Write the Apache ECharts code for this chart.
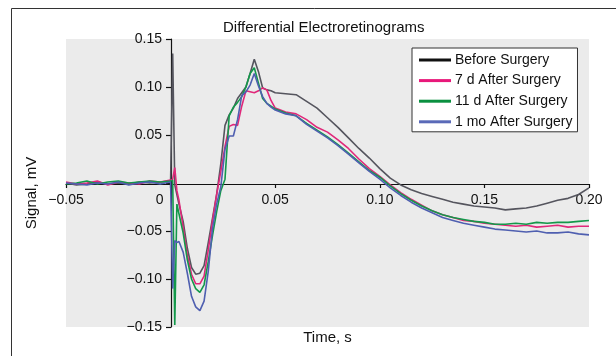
<!DOCTYPE html>
<html>
<head>
<meta charset="utf-8">
<script src="https://cdn.jsdelivr.net/npm/echarts@6/dist/echarts.min.js"></script>
<style>
  html, body { margin: 0; padding: 0; background: #fff; }
  #main { width: 616px; height: 356px; }
</style>
</head>
<body>
<div id="main"></div>
<script>
// time points (s)
var times = [
  -0.05, -0.045, -0.04, -0.035, -0.03, -0.025, -0.02, -0.015, -0.01, -0.005, 0,
  0.001, 0.002, 0.003, 0.004, 0.006, 0.008,
  0.010, 0.012, 0.014, 0.016, 0.018, 0.020, 0.022, 0.024, 0.026, 0.028, 0.030,
  0.032, 0.034, 0.036, 0.038, 0.040, 0.042, 0.044, 0.046, 0.048, 0.050,
  0.055, 0.06, 0.065, 0.07, 0.075, 0.08, 0.085, 0.09, 0.095, 0.1,
  0.105, 0.11, 0.115, 0.12, 0.125, 0.13, 0.135, 0.14, 0.145, 0.15,
  0.155, 0.16, 0.165, 0.17, 0.175, 0.18, 0.185, 0.19, 0.195, 0.2
];

// signal (mV)
var beforeSurgery = [
  0.000, -0.002, -0.001, 0.001, -0.001, 0.000, -0.001, 0.001, 0.000, 0.001, 0.002,
  0.135, -0.002, -0.012, -0.022, -0.040, -0.068,
  -0.088, -0.095, -0.094, -0.086, -0.062, -0.037, -0.012, 0.020, 0.060, 0.071, 0.078,
  0.088, 0.094, 0.100, 0.114, 0.129, 0.116, 0.099, 0.097, 0.096, 0.094,
  0.093, 0.092, 0.085, 0.078, 0.068, 0.058, 0.047, 0.036, 0.026, 0.015,
  0.005, -0.002, -0.007, -0.011, -0.014, -0.017, -0.020, -0.022, -0.024, -0.025,
  -0.026, -0.028, -0.027, -0.026, -0.024, -0.021, -0.018, -0.016, -0.012, -0.005
];
var after7d = [
  0.001, -0.001, 0.000, 0.002, -0.002, 0.001, 0.000, -0.001, 0.002, 0.001, 0.003,
  0.004, 0.016, -0.008, -0.018, -0.046, -0.075,
  -0.095, -0.105, -0.105, -0.097, -0.070, -0.040, -0.012, 0.012, 0.038, 0.059, 0.061,
  0.060, 0.080, 0.096, 0.095, 0.094, 0.096, 0.099, 0.097, 0.086, 0.078,
  0.074, 0.072, 0.066, 0.058, 0.053, 0.045, 0.036, 0.025, 0.015, 0.007,
  -0.002, -0.010, -0.017, -0.023, -0.029, -0.033, -0.036, -0.039, -0.040, -0.042,
  -0.043, -0.044, -0.045, -0.044, -0.046, -0.045, -0.044, -0.046, -0.045, -0.045
];
var after11d = [
  -0.001, 0.000, 0.002, -0.001, 0.001, 0.002, 0.000, 0.001, 0.002, 0.001, 0.002,
  0.003, -0.148, -0.022, -0.032, -0.052, -0.080,
  -0.100, -0.110, -0.114, -0.106, -0.082, -0.055, -0.030, -0.008, 0.004, 0.070, 0.079,
  0.084, 0.090, 0.100, 0.114, 0.120, 0.104, 0.088, 0.083, 0.080, 0.077,
  0.073, 0.070, 0.062, 0.055, 0.048, 0.040, 0.031, 0.022, 0.013, 0.006,
  -0.003, -0.011, -0.018, -0.024, -0.029, -0.033, -0.036, -0.038, -0.040, -0.041,
  -0.043, -0.043, -0.042, -0.043, -0.041, -0.042, -0.041, -0.041, -0.040, -0.039
];
var after1mo = [
  0.000, -0.001, -0.002, 0.000, -0.001, 0.001, -0.002, 0.000, 0.001, -0.001, 0.001,
  -0.110, -0.060, -0.062, -0.061, -0.072, -0.094,
  -0.118, -0.129, -0.133, -0.123, -0.092, -0.048, -0.022, -0.004, 0.035, 0.049, 0.049,
  0.066, 0.091, 0.095, 0.102, 0.114, 0.101, 0.090, 0.083, 0.079, 0.076,
  0.072, 0.070, 0.061, 0.054, 0.047, 0.039, 0.030, 0.021, 0.012, 0.004,
  -0.005, -0.013, -0.020, -0.026, -0.031, -0.036, -0.039, -0.042, -0.044, -0.046,
  -0.048, -0.049, -0.050, -0.051, -0.050, -0.052, -0.052, -0.051, -0.053, -0.054
];

var seriesNames = ['Before Surgery', '7 d After Surgery', '11 d After Surgery', '1 mo After Surgery'];
var seriesValues = [beforeSurgery, after7d, after11d, after1mo];
var seriesColors = ['#55555e', '#e0287a', '#13984a', '#4f5fb0'];
var legendColors = ['#111111', '#e8187a', '#0a9040', '#5a6ab8'];

var xTicks = [-0.05, 0.2, 0.05];   // min, max, step
var yTicks = [-0.15, 0.15, 0.05];

var font = '"Liberation Sans", Arial, sans-serif';

function fmt(v) {
  if (Math.abs(v) < 1e-9) return '';
  return (v < 0 ? '\u2212' : '') + Math.abs(v).toFixed(2);
}

var chart = echarts.init(document.getElementById('main'), null, { renderer: 'canvas' });

var option = {
  animation: false,
  backgroundColor: '#ffffff',
  textStyle: { fontFamily: font },
  title: {
    text: 'Differential Electroretinograms',
    left: 223,
    top: 20,
    padding: 0,
    textStyle: { fontFamily: font, fontSize: 15, fontWeight: 'normal', color: '#111' }
  },
  graphic: [{
    type: 'rect',
    shape: { x: 11.5, y: 8.5, width: 700, height: 400 },
    style: { fill: null, stroke: '#333', lineWidth: 1 },
    silent: true
  }],
  legend: {
    orient: 'vertical',
    left: 412,
    top: 48,
    padding: [4, 5, 2, 7],
    itemGap: 4.6,
    itemWidth: 32,
    itemHeight: 3,
    icon: 'rect',
    selectedMode: false,
    backgroundColor: '#fff',
    borderColor: '#333',
    borderWidth: 1,
    borderRadius: 0,
    textStyle: { fontFamily: font, fontSize: 14, color: '#111', lineHeight: 16, padding: [0, 0, 0, -1] },
    data: seriesNames.map(function (n, i) {
      return { name: n, itemStyle: { color: legendColors[i] } };
    })
  },
  grid: {
    left: 66, top: 39, width: 523, height: 288,
    containLabel: false,
    outerBoundsMode: 'none',
    show: true, backgroundColor: '#ebebeb', borderWidth: 0
  },
  xAxis: {
    type: 'value',
    min: xTicks[0], max: xTicks[1], interval: xTicks[2],
    position: 'bottom',
    offset: -143,   // sits at y = 0
    name: 'Time, s',
    nameLocation: 'middle',
    nameGap: 146,
    nameTextStyle: { fontFamily: font, fontSize: 15, color: '#111' },
    axisLine: { onZero: false, lineStyle: { color: '#111', width: 1.2 } },
    axisTick: { show: true, inside: false, length: 4, lineStyle: { color: '#111', width: 1.2 } },
    axisLabel: {
      margin: 9,
      fontFamily: font, fontSize: 14, color: '#111',
      formatter: function (v) { return Math.abs(v) < 1e-9 ? '{z|0}' : fmt(v); },
      rich: { z: { fontFamily: font, fontSize: 14, color: '#111', padding: [0, 22, 0, 0] } }
    },
    splitLine: { show: false }
  },
  yAxis: {
    type: 'value',
    min: yTicks[0], max: yTicks[1], interval: yTicks[2],
    position: 'left',
    offset: -105,   // sits at t = 0
    name: 'Signal, mV',
    nameLocation: 'middle',
    nameGap: 132,
    nameRotate: 90,
    nameTextStyle: { fontFamily: font, fontSize: 15, color: '#111', padding: [0, 20, 0, 0] },
    axisLine: { onZero: false, lineStyle: { color: '#111', width: 1.2 } },
    axisTick: { show: true, inside: false, length: 5, lineStyle: { color: '#111', width: 1.2 } },
    axisLabel: {
      margin: 9,
      fontFamily: font, fontSize: 14, color: '#111',
      formatter: fmt
    },
    splitLine: { show: false }
  },
  series: seriesNames.map(function (n, i) {
    return {
      name: n,
      type: 'line',
      showSymbol: false,
      symbol: 'none',
      color: seriesColors[i],
      lineStyle: { width: 1.6, color: seriesColors[i] },
      data: times.map(function (t, k) { return [t, seriesValues[i][k]]; })
    };
  })
};

chart.setOption(option);
</script>
</body>
</html>
